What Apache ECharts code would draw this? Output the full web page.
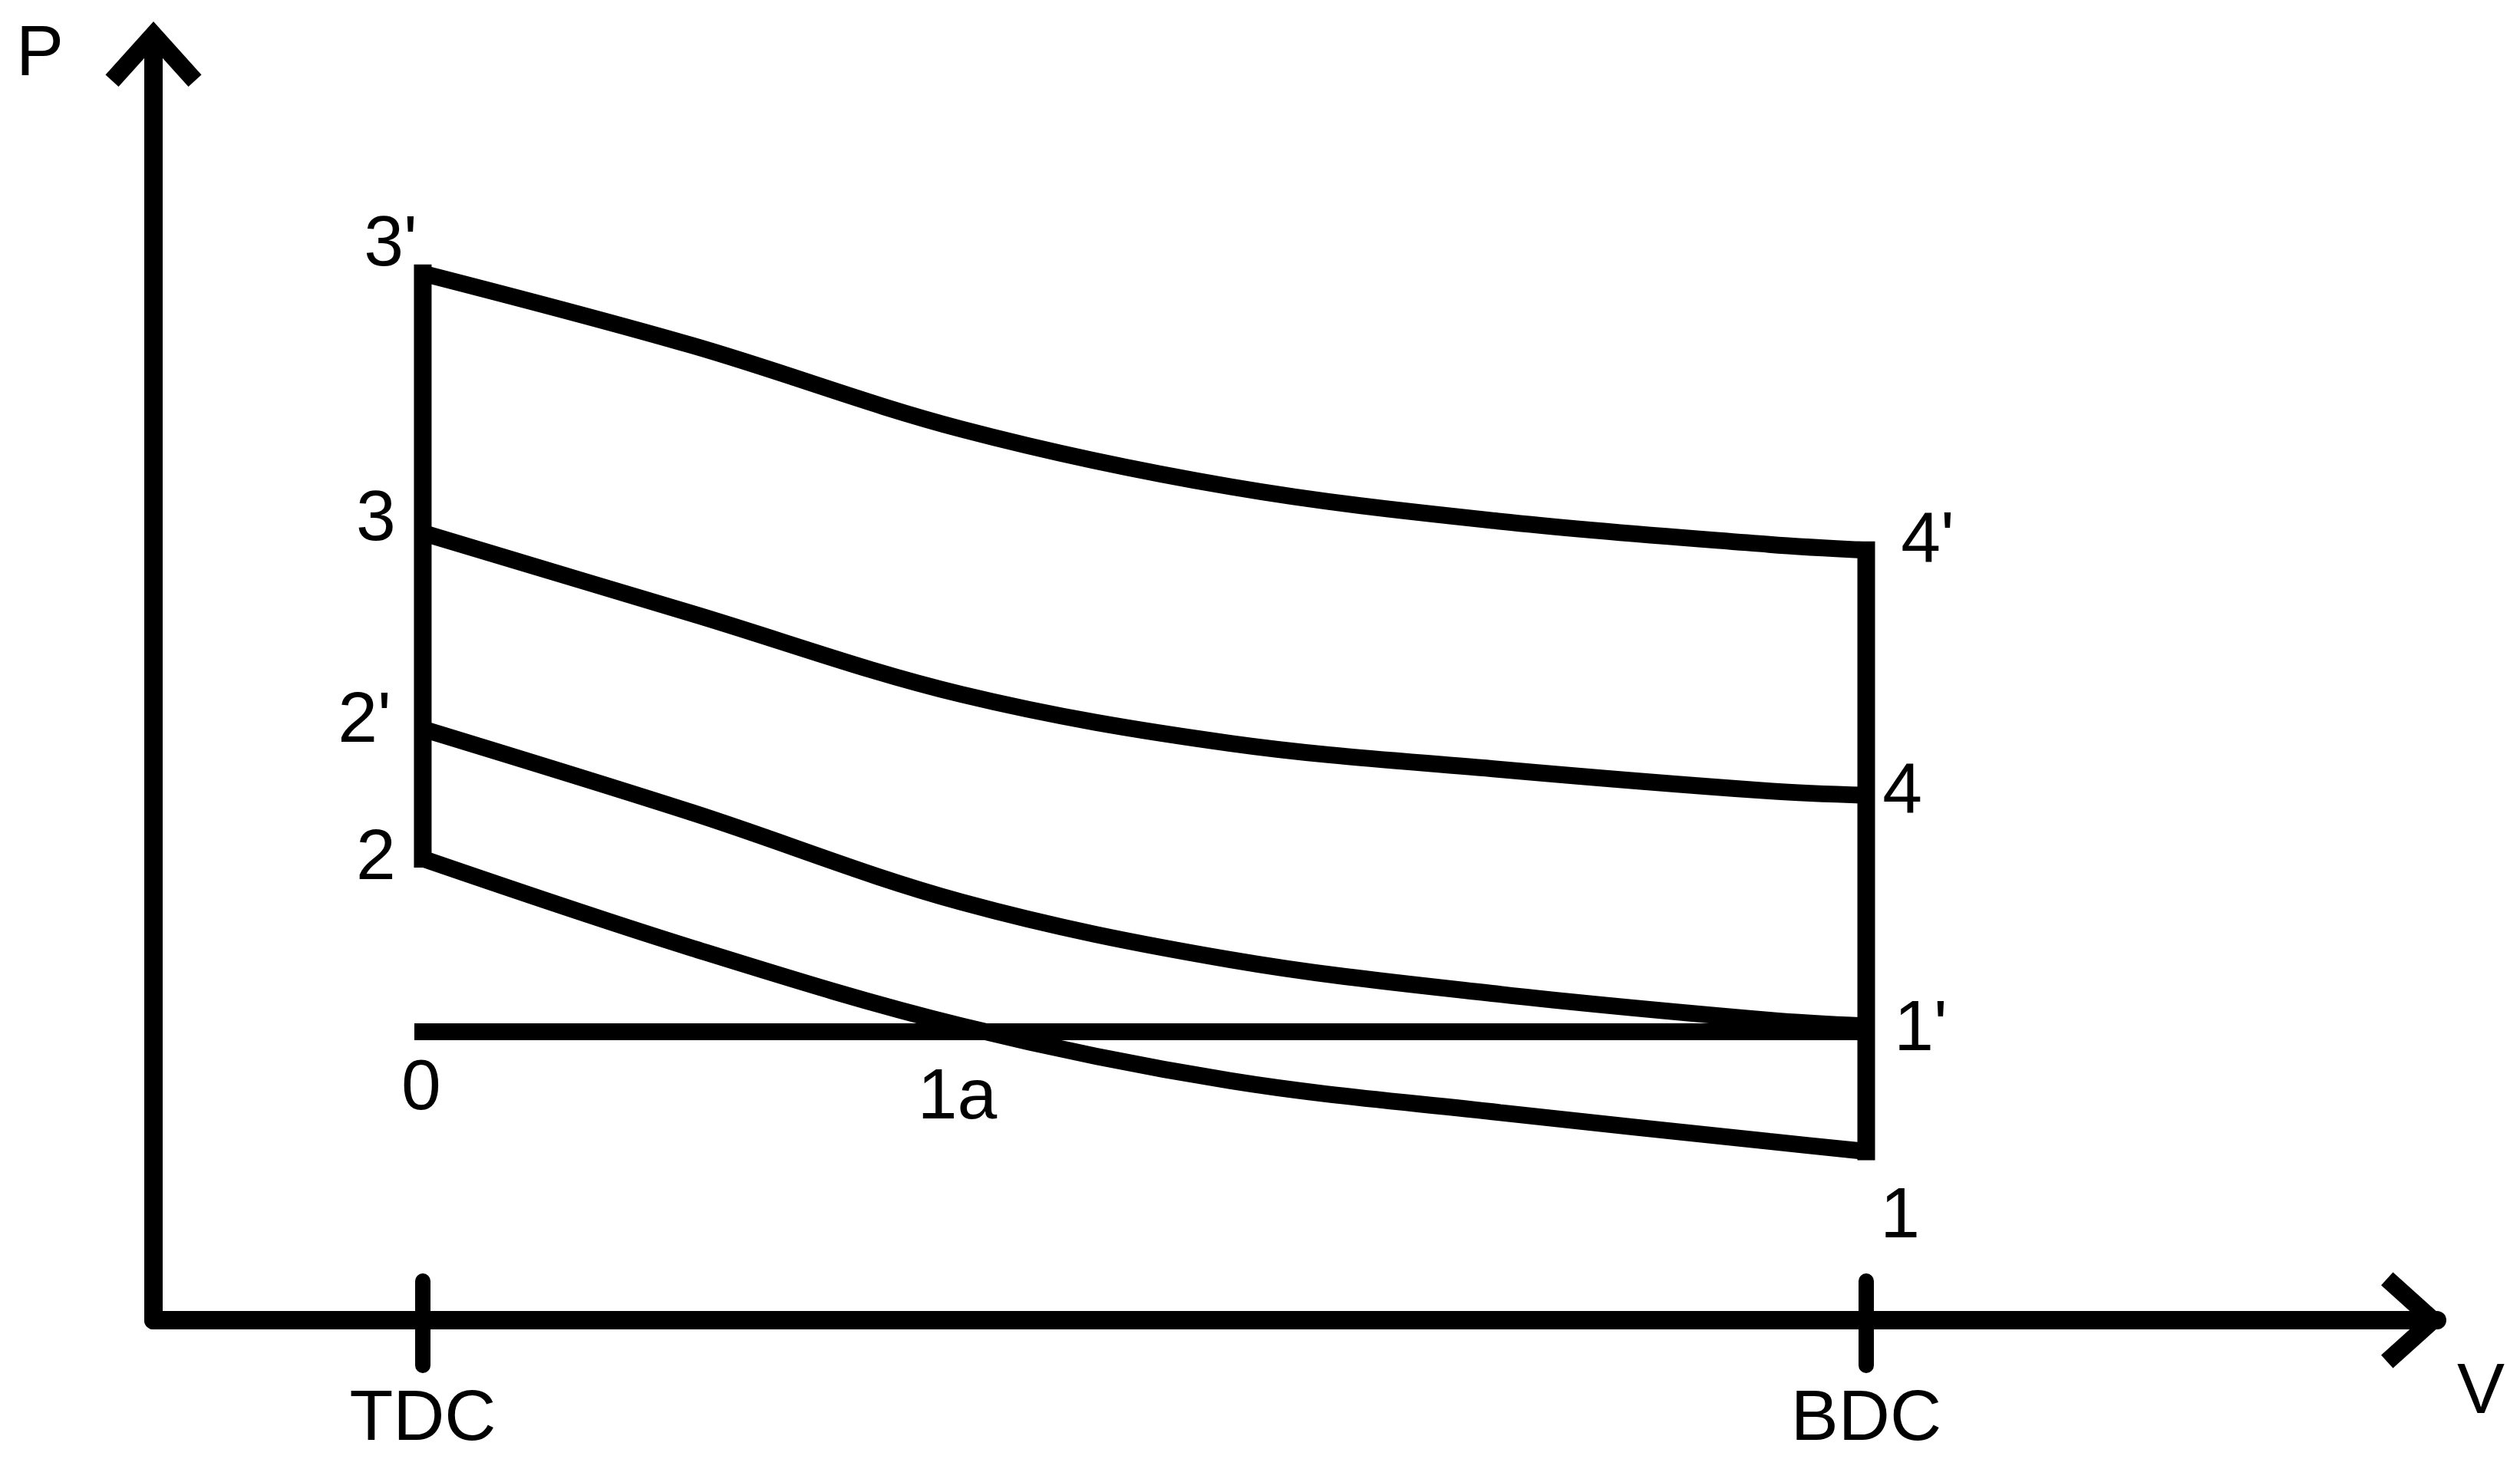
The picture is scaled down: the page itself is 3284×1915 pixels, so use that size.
<!DOCTYPE html>
<html>
<head>
<meta charset="utf-8">
<title>P-V diagram</title>
<script src="https://cdn.jsdelivr.net/npm/echarts@6/dist/echarts.min.js"></script>
<style>
  html, body { margin: 0; padding: 0; background: #fff; }
  #main { width: 3284px; height: 1915px; }
</style>
</head>
<body>
<div id="main"></div>
<script>
// volume: TDC = 1, pressure: intake line (0 - 1a - 1') = 1
var volume = [1, 2, 3, 4, 5, 6, 6.36];
var pTop = [3.63, 3.38, 3.09, 2.89, 2.77, 2.69, 2.67];      // 3' -> 4'
var pUpper = [2.73, 2.45, 2.17, 2.00, 1.91, 1.835, 1.82];   // 3 -> 4
var pLower = [2.05, 1.76, 1.45, 1.25, 1.13, 1.04, 1.02];    // 2' -> 1'
var pBottom = [1.60, 1.29, 1.02, 0.83, 0.72, 0.62, 0.585];  // 2 -> 1

var intakeV = [1, 3.11, 6.36];
var intakeP = [1, 1, 1];
var intakeNames = ['0', '1a', ''];

var tickValues = [1, 6.36];
var tickNames = ['TDC', 'BDC'];

var FONT = '"Liberation Sans", Arial, sans-serif';
var FONT_SIZE = 93;
var ARROW = 'path://M62.5 0L125 69.5L108 84.9L62.5 34.4L17 84.9L0 69.5Z';

// where each point name sits relative to its point (px)
var labelOffset = {
  "3'": [-42, -36], '3': [-61, -16], "2'": [-76, -9], '2': [-61, 1],
  "4'": [80, -11], '4': [47, -3], "1'": [71, 6], '1': [44, 86],
  '0': [-2, 75], '1a': [-44, 87]
};

function endNames(first, last, len) {
  var arr = [];
  for (var i = 0; i < len; i++) arr.push('');
  arr[0] = first;
  arr[len - 1] = last;
  return arr;
}

function lineSeries(xs, ys, names, opts) {
  return {
    type: 'line',
    xAxisIndex: 0,
    yAxisIndex: 0,
    data: xs.map(function (v, i) {
      var item = { value: [v, ys[i]] };
      var n = names ? names[i] : '';
      if (n) {
        item.label = { show: true, formatter: n, offset: labelOffset[n] };
      }
      return item;
    }),
    smooth: opts.smooth || false,
    symbol: 'circle',
    symbolSize: 0,
    showSymbol: true,
    showAllSymbol: true,
    lineStyle: { color: '#000', width: opts.width || 22, cap: opts.cap || 'round' },
    itemStyle: { color: '#000' },
    label: {
      show: false, position: 'inside',
      fontSize: FONT_SIZE, fontFamily: FONT, color: '#000'
    },
    emphasis: { disabled: true },
    silent: true,
    animation: false
  };
}

var last = volume.length - 1;

var series = [
  lineSeries(volume, pTop, endNames("3'", "4'", volume.length), { smooth: 0.35 }),
  lineSeries(volume, pUpper, endNames('3', '4', volume.length), { smooth: 0.35 }),
  lineSeries(volume, pLower, endNames("2'", "1'", volume.length), { smooth: 0.35 }),
  lineSeries(volume, pBottom, endNames('2', '1', volume.length), { smooth: 0.35 }),
  lineSeries(intakeV, intakeP, intakeNames, { cap: 'square' }),
  // TDC and BDC vertical strokes
  lineSeries([volume[0], volume[0]], [pTop[0], pBottom[0]], null, { cap: 'square', width: 23 }),
  lineSeries([volume[last], volume[last]], [pTop[last], pBottom[last]], null, { cap: 'square', width: 23 })
];

var axisLineStyle = { color: '#000', width: 24, cap: 'round' };
var tickStyle = { color: '#000', width: 20, cap: 'round' };

var chart = echarts.init(document.getElementById('main'));
chart.setOption({
  backgroundColor: '#fff',
  animation: false,
  grid: {
    left: 200, right: 108, top: 48, bottom: 194,
    containLabel: false, outerBoundsMode: 'none'
  },
  xAxis: [{
    type: 'value', min: 0, max: 8.48,
    name: 'V', nameLocation: 'end', nameGap: 26,
    nameTextStyle: {
      fontSize: FONT_SIZE, fontFamily: FONT, color: '#000',
      verticalAlign: 'top', lineHeight: FONT_SIZE, padding: [49, 0, 0, 0]
    },
    axisLine: {
      show: true, onZero: false, lineStyle: axisLineStyle,
      symbol: ['none', ARROW], symbolSize: [125, 85], symbolOffset: [0, -30.5]
    },
    axisTick: { show: true, inside: false, length: 59, customValues: tickValues, lineStyle: tickStyle },
    axisLabel: {
      show: true, customValues: tickValues, margin: 84,
      fontSize: FONT_SIZE, fontFamily: FONT, color: '#000',
      formatter: function (v) { return tickNames[tickValues.indexOf(v)] || ''; }
    },
    splitLine: { show: false }
  }, {
    type: 'value', min: 0, max: 8.48, position: 'bottom',
    axisLine: { show: false, onZero: false },
    axisTick: { show: true, inside: true, length: 51, customValues: tickValues, lineStyle: tickStyle },
    axisLabel: { show: false },
    splitLine: { show: false }
  }],
  yAxis: {
    type: 'value', min: 0, max: 4.45,
    name: 'P', nameLocation: 'end', nameGap: -71,
    nameTextStyle: { fontSize: FONT_SIZE, fontFamily: FONT, color: '#000', padding: [0, 296, 0, 0] },
    axisLine: {
      show: true, onZero: false, lineStyle: axisLineStyle,
      symbol: ['none', ARROW], symbolSize: [125, 85], symbolOffset: [0, -22.5]
    },
    axisTick: { show: false },
    axisLabel: { show: false },
    splitLine: { show: false }
  },
  series: series
});
</script>
</body>
</html>
